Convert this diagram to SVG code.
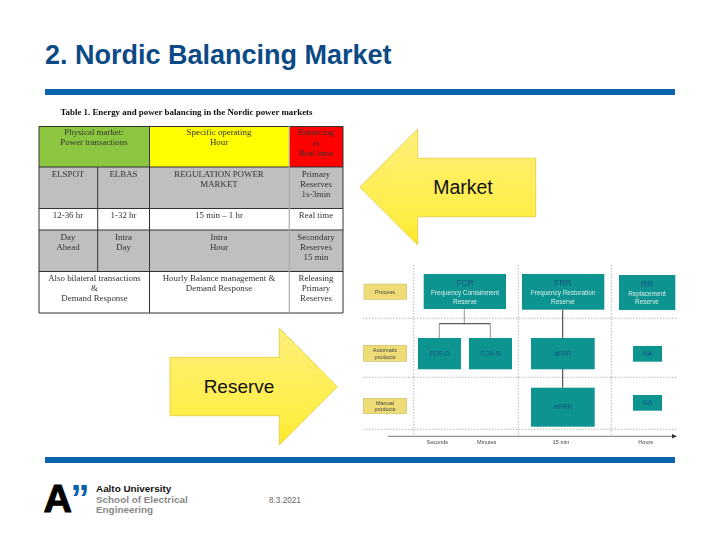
<svg xmlns="http://www.w3.org/2000/svg" width="720" height="540" viewBox="0 0 720 540">
<style>
.s{font-family:"Liberation Sans",Arial,sans-serif}
.t{font-family:"Liberation Serif","Times New Roman",serif;font-size:8.900px;fill:#333;text-anchor:middle}
.g{stroke:#333;stroke-width:1;fill:none}
.box{fill:#0f9490}
.lab{fill:#eedd77;stroke:#c9bb66;stroke-width:.6}
.w{font-family:"Liberation Sans",Arial,sans-serif;font-size:6.400px;fill:#d5ecea;text-anchor:middle}
.d{font-family:"Liberation Sans",Arial,sans-serif;font-size:8.500px;fill:#16507c;text-anchor:middle}
.k{font-family:"Liberation Sans",Arial,sans-serif;font-size:5.500px;fill:#444;text-anchor:middle}
.p{font-family:"Liberation Sans",Arial,sans-serif;font-size:6.500px;fill:#16507c;text-anchor:middle}
.ax{font-family:"Liberation Sans",Arial,sans-serif;font-size:5.500px;fill:#444;text-anchor:middle}
.dash{stroke:#999;stroke-width:.7;stroke-dasharray:1.5 1.5;fill:none}
.arrow{stroke:#e8d24a;stroke-width:1;fill:url(#yg)}
.lbl{font-family:"Liberation Sans",Arial,sans-serif;font-size:19.500px;fill:#111;text-anchor:middle}
</style>
<defs>
<linearGradient id="yg" x1="0" y1="0" x2="0" y2="1">
<stop offset="0" stop-color="#ffef7a"/><stop offset=".8" stop-color="#ffee44"/><stop offset="1" stop-color="#ffe620"/>
</linearGradient>
<filter id="soft" x="-2%" y="-2%" width="104%" height="104%"><feGaussianBlur stdDeviation="0.4"/></filter>
</defs>
<rect width="720" height="540" fill="#fff"/>
<text id="title" class="s" x="45" y="64" font-size="27" font-weight="bold" fill="#0c4a86">2. Nordic Balancing Market</text>
<rect x="45" y="89" width="630" height="6" fill="#0a62ac"/>
<rect x="45" y="457" width="630" height="6" fill="#0a62ac"/>

<g id="table" filter="url(#soft)">
<text x="186.500" y="115" font-family="Liberation Serif,serif" font-size="8.900" font-weight="bold" fill="#111" text-anchor="middle">Table 1. Energy and power balancing in the Nordic power markets</text>
<rect x="39" y="126" width="110.500" height="41" fill="#8cc63f"/>
<rect x="149.500" y="126" width="139.800" height="41" fill="#ffff00"/>
<rect x="289.300" y="126" width="53.700" height="41" fill="#ff0000"/>
<rect x="39" y="167" width="304" height="41.500" fill="#bfbfbf"/>
<rect x="39" y="230" width="304" height="41.500" fill="#bfbfbf"/>
<path class="g" d="M39 126.500H343M39 167H343M39 208.500H343M39 230H343M39 271.500H343M39 313H343M39 126V313M343 126V313M149.500 126V313M97.700 167V271.500"/>
<path d="M289.300 126V313" stroke="#aaa" stroke-width="1.200" fill="none"/>
<text class="t" x="94" y="135">Physical market:</text><text class="t" x="94" y="145">Power transactions</text>
<text class="t" x="219" y="135">Specific operating</text><text class="t" x="219" y="145">Hour</text>
<text class="t" x="316" y="135">Balancing</text><text class="t" x="316" y="145.500">in</text><text class="t" x="316" y="155.500">Real time</text>
<text class="t" x="68" y="177">ELSPOT</text><text class="t" x="123.500" y="177">ELBAS</text>
<text class="t" x="219" y="177">REGULATION POWER</text><text class="t" x="219" y="187">MARKET</text>
<text class="t" x="316" y="177">Primary</text><text class="t" x="316" y="187">Reserves</text><text class="t" x="316" y="197">1s-3min</text>
<text class="t" x="68" y="218">12-36 hr</text><text class="t" x="123.500" y="218">1-32 hr</text><text class="t" x="219" y="218">15 min – 1 hr</text><text class="t" x="316" y="218">Real time</text>
<text class="t" x="68" y="240">Day</text><text class="t" x="68" y="250">Ahead</text>
<text class="t" x="123.500" y="240">Intra</text><text class="t" x="123.500" y="250">Day</text>
<text class="t" x="219" y="240">Intra</text><text class="t" x="219" y="250">Hour</text>
<text class="t" x="316" y="240">Secondary</text><text class="t" x="316" y="250">Reserves</text><text class="t" x="316" y="260">15 min</text>
<text class="t" x="94.500" y="281">Also bilateral transactions</text><text class="t" x="94.500" y="291">&amp;</text><text class="t" x="94.500" y="301">Demand Response</text>
<text class="t" x="219" y="281">Hourly  Balance management &amp;</text><text class="t" x="219" y="291">Demand Response</text>
<text class="t" x="316" y="281">Releasing</text><text class="t" x="316" y="291">Primary</text><text class="t" x="316" y="301">Reserves</text>
</g>

<g id="market-arrow"><path class="arrow" d="M360 187.300L417.700 129V158.300H535.700V216.700H417.700V245Z"/><text class="lbl" x="463" y="194">Market</text></g>
<g id="reserve-arrow"><path class="arrow" d="M170 357.300H279.300V328.300L337.300 386.700L279.300 445V415.700H170Z"/><text class="lbl" x="239" y="393" style="font-size:19px">Reserve</text></g>

<g id="grid" filter="url(#soft)">
<path class="dash" d="M363 318.300H678M363 377.300H678M363 429.300H678M413.700 265V436M518.300 265V436M611.300 265V436"/>
</g>
<g id="connectors" filter="url(#soft)">
<path d="M464.300 309V323.700M439.300 338V323.700H490.300V338" fill="none" stroke="#777" stroke-width=".8"/>
<path d="M439.300 323.700H490.300" stroke="#333" stroke-width=".8"/>
<path d="M562.700 309.700V387.700" stroke="#333" stroke-width="1"/>
<path d="M388 436.300H675" stroke="#555" stroke-width=".8"/>
<path d="M677 436.300L672 434V438.600Z" fill="#333"/>
</g>
<g filter="url(#soft)">
<g id="process"><rect class="lab" x="364" y="284" width="42.700" height="15.300"/><text class="k" x="385" y="293.500">Process</text></g>
<g id="automatic"><rect class="lab" x="363.300" y="345.300" width="43.400" height="16"/><text class="k" x="385" y="352">Automatic</text><text class="k" x="385" y="358.500">products</text></g>
<g id="manual"><rect class="lab" x="363.300" y="398.300" width="43.400" height="15.400"/><text class="k" x="385" y="404.500">Manual</text><text class="k" x="385" y="411">products</text></g>
<g id="fcr"><rect class="box" x="423.700" y="274" width="82.300" height="35"/><text class="d" x="465" y="286">FCR</text><text class="w" x="465" y="295">Frequency Containment</text><text class="w" x="465" y="303.500">Reserve</text></g>
<g id="frr"><rect class="box" x="522" y="274" width="82.300" height="35.700"/><text class="d" x="563" y="286">FRR</text><text class="w" x="563" y="295">Frequency Restoration</text><text class="w" x="563" y="303.500">Reserve</text></g>
<g id="rr"><rect class="box" x="619" y="275" width="56.300" height="35"/><text class="d" x="647" y="287">RR</text><text class="w" x="647" y="296">Replacement</text><text class="w" x="647" y="304">Reserve</text></g>
<g id="fcr-d"><rect class="box" x="418" y="338" width="43" height="31.300"/><text class="p" x="439.500" y="355.500">FCR-D</text></g>
<g id="fcr-n"><rect class="box" x="469" y="338" width="43" height="31.300"/><text class="p" x="490.500" y="355.500">FCR-N</text></g>
<g id="afrr"><rect class="box" x="531" y="338" width="63.700" height="31.300"/><text class="p" x="563" y="355.500">aFRR</text></g>
<g id="mfrr"><rect class="box" x="531" y="387.700" width="63.700" height="39"/><text class="p" x="563" y="409">mFRR</text></g>
<g id="na1"><rect class="box" x="633" y="346" width="29" height="15.700"/><text class="p" x="647.500" y="356">NA</text></g>
<g id="na2"><rect class="box" x="633" y="395" width="29" height="15.700"/><text class="p" x="647.500" y="405">NA</text></g>
<text class="ax" x="437.300" y="443.500">Seconds</text><text class="ax" x="486.700" y="443.500">Minutes</text><text class="ax" x="561" y="443.500">15 min</text><text class="ax" x="645.700" y="443.500">Hours</text>
</g>

<g id="logo">
<text class="s" x="43.500" y="512" font-size="39.500" font-weight="bold" fill="#000" stroke="#000" stroke-width="1">A</text>
<text class="s" x="70.500" y="512.200" font-size="38" font-weight="bold" fill="#0a62ac">”</text>
<text class="s" x="96" y="492" font-size="9.900" font-weight="bold" fill="#111">Aalto University</text>
<text class="s" x="96" y="502.500" font-size="9.900" font-weight="bold" fill="#888">School of Electrical</text>
<text class="s" x="96" y="513" font-size="9.900" font-weight="bold" fill="#888">Engineering</text>
</g>
<text id="date" class="s" x="269" y="502.500" font-size="8.200" fill="#666">8.3.2021</text>
</svg>
